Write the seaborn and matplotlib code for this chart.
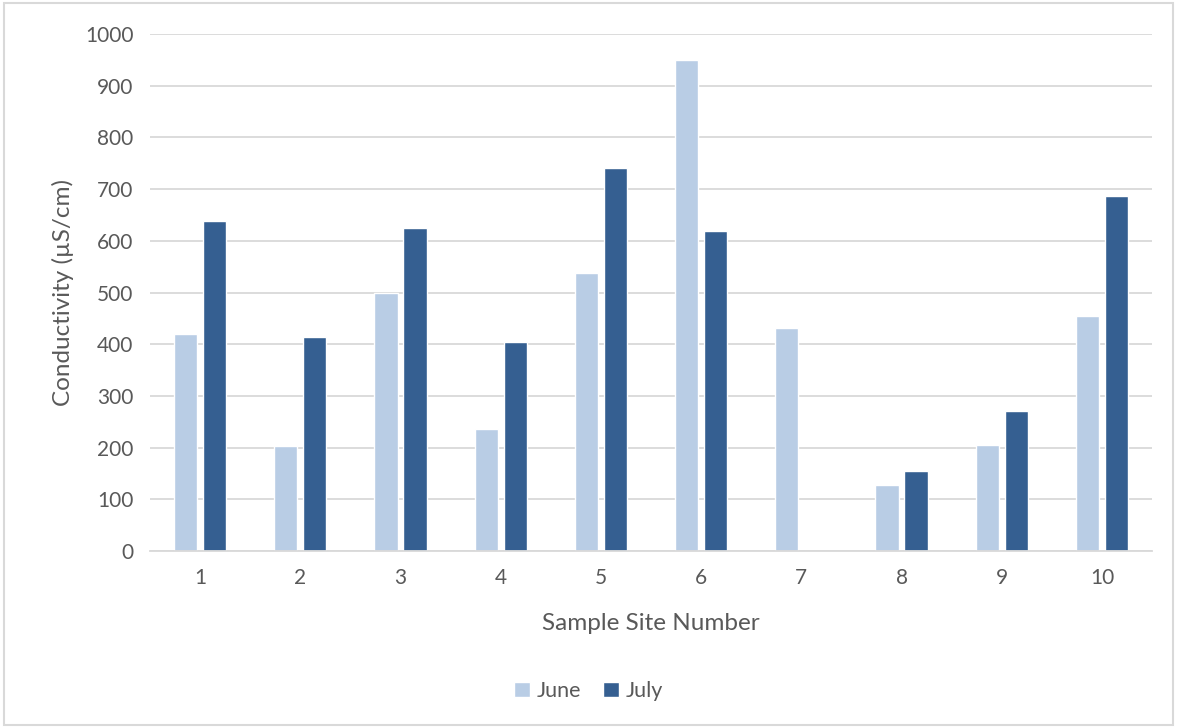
import pandas as pd
import matplotlib.pyplot as plt
import seaborn as sns
from matplotlib.patches import Rectangle

sites = ["1", "2", "3", "4", "5", "6", "7", "8", "9", "10"]
june = [420, 203, 499, 236, 538, 950, 431, 128, 205, 455]
july = [638, 414, 625, 404, 741, 619, 0, 155, 271, 687]

df = pd.DataFrame({
    "site": sites * 2,
    "month": ["June"] * len(sites) + ["July"] * len(sites),
    "value": june + july,
})

sns.set_theme(style="white")
plt.rcParams["font.family"] = ["Lato", "DejaVu Sans"]
text_col = "#595959"
grid_col = "#D9D9D9"

fig = plt.figure(figsize=(11.77, 7.28), dpi=100)
ax = fig.add_axes([0.1274, 0.2431, 0.8514, 0.7102])

sns.barplot(data=df, x="site", y="value", hue="month", order=sites,
            hue_order=["June", "July"], palette=["#B9CDE5", "#355F91"],
            saturation=1, width=0.58, gap=0.2, ax=ax, legend=True)

ax.set_ylim(0, 1000)
ax.set_yticks(range(0, 1001, 100))
ax.set_xlim(-0.5, 9.5)
ax.yaxis.grid(True, color=grid_col, linewidth=1.3)
ax.set_axisbelow(True)
for s in ["left", "right", "top"]:
    ax.spines[s].set_visible(False)
ax.spines["bottom"].set_color(grid_col)
ax.spines["bottom"].set_linewidth(1.3)
ax.tick_params(axis="both", length=0, labelsize=15, labelcolor=text_col, pad=12)
ax.set_xlabel("Sample Site Number", fontsize=17.5, color=text_col, labelpad=18)
ax.set_ylabel("Conductivity (µS/cm)", fontsize=17.5, color=text_col, labelpad=8)

leg = ax.legend(loc="center", bbox_to_anchor=(0.5, 0.0507), bbox_transform=fig.transFigure,
                ncol=2, frameon=False, fontsize=15.5, handlelength=0.75, handleheight=0.75,
                handletextpad=0.3, columnspacing=1.0)
for t in leg.get_texts():
    t.set_color(text_col)

fig.patches.append(Rectangle((0.003, 0.004), 0.994, 0.992, transform=fig.transFigure,
                             fill=False, edgecolor=grid_col, linewidth=1.5))

fig.savefig("out.png", dpi=100)
